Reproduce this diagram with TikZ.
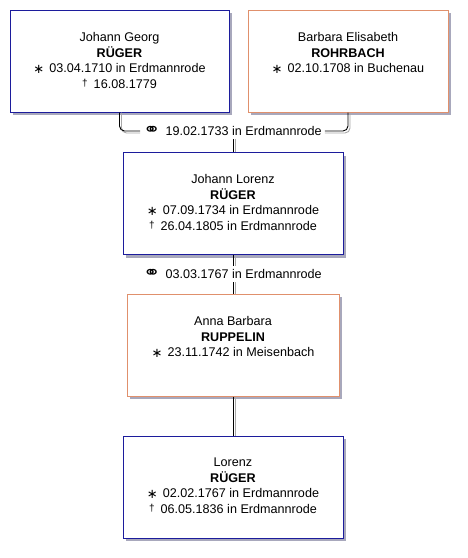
\documentclass[tikz,border=0pt]{standalone}
\usepackage{fontspec}
\setmainfont{Liberation Sans}
\newfontfamily\djv{DejaVu Sans}
\definecolor{mblue}{HTML}{1C1C9C}
\definecolor{forange}{HTML}{E0906C}
\definecolor{shadowc}{HTML}{A8A8BC}
\definecolor{lineshadow}{HTML}{A8A8A8}
\tikzset{
  pbox/.style={rectangle, minimum height=102pt, inner sep=0pt, fill=white, line width=1pt},
  mbox/.style={pbox, draw=mblue},
  fbox/.style={pbox, draw=forange},
  sbox/.style={rectangle, minimum height=102pt, inner sep=0pt, fill=shadowc, draw=none},
  ptext/.style={anchor=north, align=center, inner sep=0pt, font=\fontsize{12.6}{15.5}\selectfont},
  mtext/.style={inner sep=3pt, font=\fontsize{12.6}{15.5}\selectfont},
  conn/.style={draw=black, line width=0.9pt, rounded corners=5pt},
  connsh/.style={draw=lineshadow, line width=0.9pt, rounded corners=5pt},
}
\newcommand{\birth}{\raisebox{-0.1ex}{\djv\fontsize{13}{13}\selectfont ∗}\hspace{5pt}}
\newcommand{\death}{\raisebox{0.25ex}{\fontsize{10}{10}\selectfont †}\hspace{6pt}}
\newcommand{\marr}{\raisebox{0.1ex}{\scalebox{2.3}[1.9]{\djv\fontsize{9}{9}\selectfont ⚭}}\hspace{5pt}}
\begin{document}
\begin{tikzpicture}[x=1pt,y=-1pt]
\useasboundingbox (0,0) rectangle (467,558);
% shadows
\node[sbox, minimum width=219pt] (s1) at (122.5,64) {};
\node[sbox, minimum width=200pt] (s2) at (351,64) {};
\node[sbox, minimum width=220pt] (s3) at (236,206.5) {};
\node[sbox, minimum width=212pt] (s4) at (236,348) {};
\node[sbox, minimum width=220pt] (s5) at (236,490) {};
% boxes
\node[mbox, minimum width=219pt] (b1) at (119.5,61) {};
\node[fbox, minimum width=200pt] (b2) at (348,61) {};
\node[mbox, minimum width=220pt] (b3) at (233,203.5) {};
\node[fbox, minimum width=212pt] (b4) at (233,345) {};
\node[mbox, minimum width=220pt] (b5) at (233,487) {};
% texts
\node[ptext] (t1) at ([yshift=-23pt]b1.north) {Johann Georg\\\textbf{RÜGER}\\\birth 03.04.1710 in Erdmannrode\\\death 16.08.1779};
\node[ptext] (t2) at ([yshift=-23pt]b2.north) {Barbara Elisabeth\\\textbf{ROHRBACH}\\\birth 02.10.1708 in Buchenau};
\node[ptext] (t3) at ([yshift=-22.3pt]b3.north) {Johann Lorenz\\\textbf{RÜGER}\\\birth 07.09.1734 in Erdmannrode\\\death 26.04.1805 in Erdmannrode};
\node[ptext] (t4) at ([yshift=-23pt]b4.north) {Anna Barbara\\\textbf{RUPPELIN}\\\birth 23.11.1742 in Meisenbach};
\node[ptext] (t5) at ([yshift=-22.5pt]b5.north) {Lorenz\\\textbf{RÜGER}\\\birth 02.02.1767 in Erdmannrode\\\death 06.05.1836 in Erdmannrode};
% marriages
\node[mtext] (m1) at (232.5,131) {\marr 19.02.1733 in Erdmannrode};
\node[mtext] (m2) at (232.5,274) {\marr 03.03.1767 in Erdmannrode};
% connector shadows (offset 2pt right, 2pt down)
\draw[connsh] ([xshift=2pt]b1.south) |- ([yshift=-2pt]m1.west);
\draw[connsh] ([xshift=2pt]b2.south) |- ([yshift=-2pt]m1.east);
\draw[connsh] ([xshift=2pt]b3.north |- m1.south) -- ([xshift=2pt]b3.north);
\draw[connsh] ([xshift=2pt]b3.south) -- ([xshift=2pt]b3.south |- m2.north);
\draw[connsh] ([xshift=2pt]b4.north |- m2.south) -- ([xshift=2pt]b4.north);
\draw[connsh] ([xshift=2pt]b4.south) -- ([xshift=2pt]b5.north);
% connectors
\draw[conn] (b1.south) |- (m1.west);
\draw[conn] (b2.south) |- (m1.east);
\draw[conn] (b3.north |- m1.south) -- (b3.north);
\draw[conn] (b3.south) -- (b3.south |- m2.north);
\draw[conn] (b4.north |- m2.south) -- (b4.north);
\draw[conn] (b4.south) -- (b5.north);
\end{tikzpicture}
\end{document}
